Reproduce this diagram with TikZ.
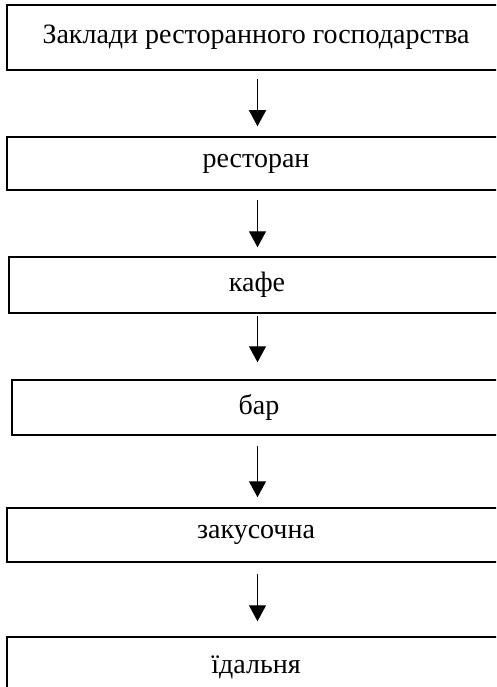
\documentclass[tikz,border=0pt]{standalone}
\usepackage{fontspec}
\setmainfont{Liberation Serif}
\usetikzlibrary{arrows.meta,calc}
\begin{document}
\begin{tikzpicture}[x=1pt,y=1pt,
  stagebox/.style={draw=black, line width=1.5pt, rectangle, inner sep=0pt,
    minimum width=498pt, font=\fontsize{28}{32}\selectfont},
  flowarrow/.style={draw=black, line width=1.3pt,
    -{Triangle[length=16pt,width=17pt]}}]
\useasboundingbox (0,0) rectangle (496,-687);
\clip (0,0) rectangle (496,-687);
\coordinate (axis) at (257.5,0);
% stages of the catering classification
\node[stagebox, minimum height=65pt] (b1) at (256,-37.5) {Заклади ресторанного господарства};
\node[stagebox, minimum height=53pt] (b2) at (256,-163.5) {ресторан};
\node[stagebox, minimum height=56pt, minimum width=496pt] (b3) at (257,-285) {кафе};
\node[stagebox, minimum height=55pt, minimum width=494pt] (b4) at (259,-407.5) {бар};
\node[stagebox, minimum height=54pt] (b5) at (256,-535) {закусочна};
\node[stagebox, minimum height=60pt] (b6) at (256,-667) {їдальня};
% arrows between stages
\draw[flowarrow] ($(b1.south -| axis)+(0,-8)$) -- ($(b2.north -| axis)+(0,10)$);
\draw[flowarrow] ($(b2.south -| axis)+(0,-9)$) -- ($(b3.north -| axis)+(0,9)$);
\draw[flowarrow] ($(b3.south -| axis)+(0,-2)$) -- ($(b4.north -| axis)+(0,17)$);
\draw[flowarrow] ($(b4.south -| axis)+(0,-10)$) -- ($(b5.north -| axis)+(0,10)$);
\draw[flowarrow] ($(b5.south -| axis)+(0,-11)$) -- ($(b6.north -| axis)+(0,15)$);
\end{tikzpicture}
\end{document}
